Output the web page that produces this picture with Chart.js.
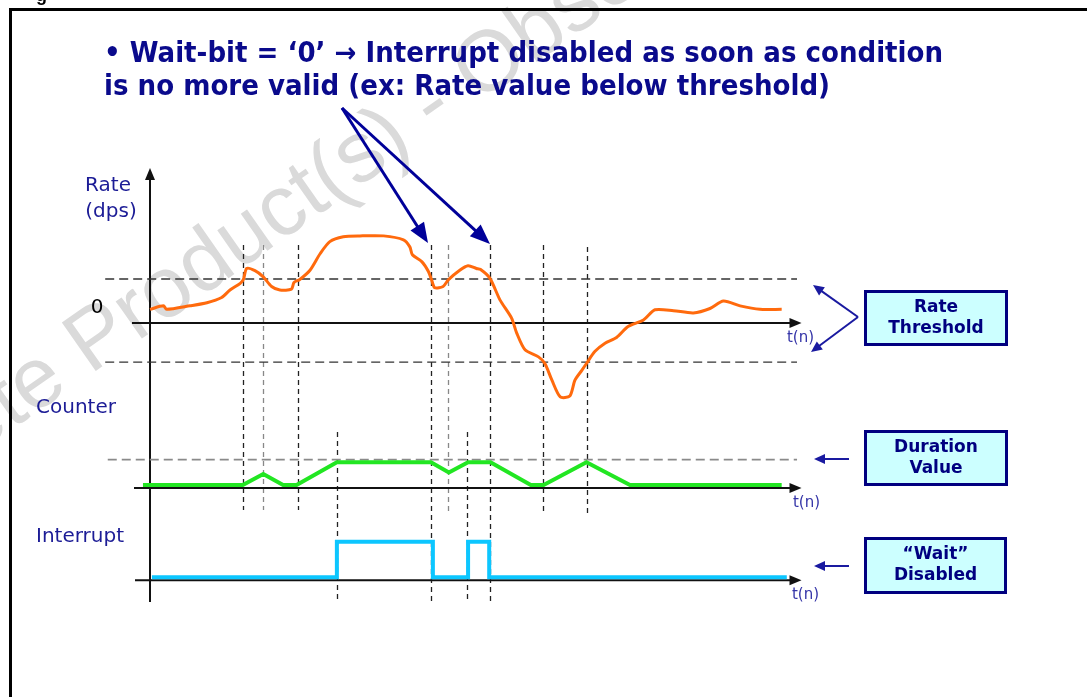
<!DOCTYPE html>
<html lang="en">
<head>
<meta charset="UTF-8">
<title>Wait-bit = 0 timing</title>
<style>
  html, body { margin: 0; padding: 0; background: #fff; }
  #wrap { position: relative; width: 1087px; height: 697px; }
  canvas { display: block; }
</style>
</head>
<body>
<div id="wrap"><canvas id="timing" width="1087" height="697"></canvas></div>
<script src="https://cdn.jsdelivr.net/npm/chart.js"></script>
<script>
// rate signal (dps, threshold = 1)
const rateT = [0, 2.1, 2.6, 6.25, 8.9, 11.2, 12.5, 14.1, 14.6, 15.1, 16.4, 17.7, 19.0, 20.3, 22.1,
  22.5, 23.4, 25.0, 26.6, 28.1, 30.2, 32.8, 36.5, 39.6, 40.6, 41.0, 42.5, 43.5, 44.0, 44.5,
  45.8, 46.6, 48.4, 49.7, 51.0, 51.6, 53.1, 54.7, 56.5, 57.3, 58.6, 60.7, 61.7, 62.8, 64.1,
  65.6, 66.4, 67.5, 68.2, 69.5, 71.1, 72.9, 74.7, 77.1, 78.9, 81.8, 84.9, 87.5, 89.6, 92.2,
  95.3, 98.7];
const rateDps = [0.31, 0.39, 0.31, 0.39, 0.46, 0.58, 0.75, 0.90, 0.99, 1.24, 1.19, 1.05, 0.83, 0.75, 0.77,
  0.92, 0.99, 1.20, 1.58, 1.85, 1.96, 1.98, 1.98, 1.89, 1.73, 1.55, 1.39, 1.17, 0.98, 0.80,
  0.83, 0.98, 1.20, 1.30, 1.24, 1.22, 1.02, 0.52, 0.11, -0.23, -0.61, -0.77, -0.92, -1.30, -1.68,
  -1.66, -1.30, -1.07, -0.92, -0.65, -0.46, -0.33, -0.08, 0.07, 0.30, 0.28, 0.23, 0.33, 0.50, 0.39,
  0.31, 0.31];
const rateThresholdHi = 1.0;
const rateThresholdLo = -0.89;

// counter
const counterT = [-1.1, 14.5, 17.7, 20.8, 22.9, 29.2, 43.9, 46.7, 49.7, 53.2, 59.5, 61.5, 68.2, 75.0, 98.7];
const counterVal = [0, 0, 0.48, 0, 0, 1, 1, 0.55, 1, 1, 0, 0, 1, 0, 0];
const durationValue = 1.12;

// interrupt line
const intT = [0.3, 29.2, 44.2, 49.7, 53.0, 99.5];
const intVal = [0, 1, 0, 1, 0, 0];

// vertical marker times
const eventT = [14.53, 17.66, 23.13, 29.22, 43.9, 46.56, 49.53, 53.13, 61.4, 68.28];

// guide line extent in t
const guideFrom = -7.0;
const guideTo = 101.1;

const W = 1087, H = 697;
const NAVY = '#0a0a8c';

function pts(xs, ys) { return xs.map((x, i) => ({ x: x, y: ys[i] })); }
function band(zeroPx, pxPerUnit) {
    return { type: 'linear', display: false, min: (zeroPx - H) / pxPerUnit, max: zeroPx / pxPerUnit };
}

const markerStyle = [
    { top: 245, bottom: 510, color: '#222' },
    { top: 245, bottom: 510, color: '#888' },
    { top: 245, bottom: 510, color: '#222' },
    { top: 432, bottom: 602, color: '#222' },
    { top: 245, bottom: 602, color: '#222' },
    { top: 245, bottom: 512, color: '#888' },
    { top: 432, bottom: 602, color: '#222' },
    { top: 245, bottom: 605, color: '#222' },
    { top: 245, bottom: 512, color: '#222' },
    { top: 247, bottom: 513, color: '#222' }
];

function arrow(ctx, x1, y1, x2, y2, lw, headLen, headW, color) {
    const a = Math.atan2(y2 - y1, x2 - x1);
    const c = Math.cos(a), s = Math.sin(a);
    ctx.strokeStyle = color;
    ctx.lineWidth = lw;
    ctx.beginPath();
    ctx.moveTo(x1, y1);
    ctx.lineTo(x2 - headLen * 0.8 * c, y2 - headLen * 0.8 * s);
    ctx.stroke();
    ctx.fillStyle = color;
    ctx.beginPath();
    ctx.moveTo(x2, y2);
    ctx.lineTo(x2 - headLen * c + headW * s, y2 - headLen * s - headW * c);
    ctx.lineTo(x2 - headLen * c - headW * s, y2 - headLen * s + headW * c);
    ctx.closePath();
    ctx.fill();
}

function label(ctx, text, x, y, font, color, align, maxW) {
    ctx.font = font;
    ctx.fillStyle = color;
    ctx.textAlign = align || 'left';
    ctx.textBaseline = 'middle';
    if (maxW && ctx.measureText(text).width > maxW) ctx.fillText(text, x, y, maxW);
    else ctx.fillText(text, x, y);
}

function box(ctx, x, y, w, h, lines) {
    ctx.fillStyle = '#ccffff';
    ctx.fillRect(x, y, w, h);
    ctx.strokeStyle = '#000080';
    ctx.lineWidth = 3;
    ctx.strokeRect(x + 1.5, y + 1.5, w - 3, h - 3);
    lines.forEach((t, i) => {
        label(ctx, t, x + w / 2, y + h / 2 + (i - (lines.length - 1) / 2) * 21, 'bold 17px "DejaVu Sans"', '#000080', 'center');
    });
}

const backdrop = {
    id: 'backdrop',
    beforeDatasetsDraw(chart) {
        const ctx = chart.ctx;
        const x = chart.scales.x;
        ctx.save();

        // watermark
        ctx.save();
        ctx.font = '86px "Liberation Sans"';
        const pre = ctx.measureText('Obsolete ').width;
        const ang = -35 * Math.PI / 180;
        ctx.translate(90 - pre * Math.cos(ang), 375 - pre * Math.sin(ang));
        ctx.rotate(ang);
        ctx.fillStyle = '#dadada';
        ctx.textBaseline = 'alphabetic';
        ctx.fillText('Obsolete Product(s) - Obsolete Product(s)', 0, 0);
        ctx.restore();

        // frame
        ctx.strokeStyle = '#000';
        ctx.lineWidth = 3;
        ctx.beginPath();
        ctx.moveTo(10.5, H);
        ctx.lineTo(10.5, 9.5);
        ctx.lineTo(W, 9.5);
        ctx.stroke();
        ctx.font = 'bold 18px "Liberation Sans"';
        ctx.fillStyle = '#000';
        ctx.textBaseline = 'alphabetic';
        ctx.textAlign = 'left';
        ctx.fillText('g', 36, 1);

        // vertical markers
        ctx.lineWidth = 1.3;
        ctx.setLineDash([5, 4]);
        eventT.forEach((t, i) => {
            const st = markerStyle[i];
            const px = Math.round(x.getPixelForValue(t)) + 0.5;
            ctx.strokeStyle = st.color;
            ctx.beginPath();
            ctx.moveTo(px, st.top);
            ctx.lineTo(px, st.bottom);
            ctx.stroke();
        });
        ctx.setLineDash([]);

        // axes
        const x0 = x.getPixelForValue(0);
        const tip = x.getPixelForValue(101.8);
        const axisY = [
            { y: chart.scales.yRate.getPixelForValue(0), from: 132 },
            { y: chart.scales.yCounter.getPixelForValue(0) + 3, from: 134 },
            { y: chart.scales.yInt.getPixelForValue(0) + 3, from: 135 }
        ];
        axisY.forEach(a => {
            arrow(ctx, a.from, a.y, tip, a.y, 2, 12, 5, '#111');
        });
        arrow(ctx, x0, 602, x0, 168, 2, 12, 5, '#111');
        ctx.restore();
    },
    afterDraw(chart) {
        const ctx = chart.ctx;
        const x = chart.scales.x;
        ctx.save();

        // headline
        ctx.font = 'bold 28px "DejaVu Sans"';
        ctx.fillStyle = NAVY;
        ctx.textAlign = 'left';
        ctx.textBaseline = 'alphabetic';
        ctx.fillText('\u2022 Wait-bit = \u20180\u2019 \u2192 Interrupt disabled as soon as condition', 104, 62, 839);
        ctx.fillText('is no more valid (ex: Rate value below threshold)', 104, 95, 726);

        arrow(ctx, 342, 108, 428, 243, 3, 20, 8, '#000099');
        arrow(ctx, 342, 108, 490, 244, 3, 20, 8, '#000099');

        // axis labels
        const lab = '#1c1c96';
        label(ctx, 'Rate', 108, 186, '20px "DejaVu Sans"', lab, 'center');
        label(ctx, '(dps)', 111, 212, '20px "DejaVu Sans"', lab, 'center');
        label(ctx, '0', 97, 308, '20px "DejaVu Sans"', '#000', 'center');
        label(ctx, 'Counter', 76, 408, '20px "DejaVu Sans"', lab, 'center');
        label(ctx, 'Interrupt', 80, 537, '20px "DejaVu Sans"', lab, 'center');

        const tx = x.getPixelForValue(101.8);
        label(ctx, 't(n)', tx - 1, 338, '15px "DejaVu Sans"', '#3535a8', 'center');
        label(ctx, 't(n)', tx + 5, 503, '15px "DejaVu Sans"', '#3535a8', 'center');
        label(ctx, 't(n)', tx + 4, 595, '15px "DejaVu Sans"', '#3535a8', 'center');

        // callouts
        arrow(ctx, 858, 317, 813, 285, 2, 11, 5, '#1a1aa0');
        arrow(ctx, 858, 317, 811, 352, 2, 11, 5, '#1a1aa0');
        arrow(ctx, 849, 459, 814, 459, 2, 11, 5, '#1a1aa0');
        arrow(ctx, 849, 566, 814, 566, 2, 11, 5, '#1a1aa0');

        box(ctx, 864, 290, 144, 56, ['Rate', 'Threshold']);
        box(ctx, 864, 430, 144, 56, ['Duration', 'Value']);
        box(ctx, 864, 537, 143, 57, ['\u201cWait\u201d', 'Disabled']);
        ctx.restore();
    }
};

new Chart(document.getElementById('timing'), {
    type: 'line',
    data: {
        datasets: [
            { label: 'Rate', data: pts(rateT, rateDps), yAxisID: 'yRate',
              borderColor: '#ff6a0d', borderWidth: 3, tension: 0.25 },
            { label: 'Counter', data: pts(counterT, counterVal), yAxisID: 'yCounter',
              borderColor: '#22e622', borderWidth: 4, tension: 0 },
            { label: 'Interrupt', data: pts(intT, intVal), yAxisID: 'yInt',
              borderColor: '#0cc6ff', borderWidth: 4, stepped: true },
            { label: 'Upper threshold', data: pts([guideFrom, guideTo], [rateThresholdHi, rateThresholdHi]),
              yAxisID: 'yRate', borderColor: '#333', borderWidth: 1.4, borderDash: [9, 5] },
            { label: 'Lower threshold', data: pts([guideFrom, guideTo], [rateThresholdLo, rateThresholdLo]),
              yAxisID: 'yRate', borderColor: '#333', borderWidth: 1.4, borderDash: [9, 5] },
            { label: 'Duration', data: pts([guideFrom + 0.4, guideTo], [durationValue, durationValue]),
              yAxisID: 'yCounter', borderColor: '#8a8a8a', borderWidth: 1.6, borderDash: [9, 5] }
        ]
    },
    options: {
        responsive: false,
        animation: false,
        devicePixelRatio: 1,
        layout: { padding: 0 },
        elements: { point: { radius: 0, hoverRadius: 0 } },
        plugins: { legend: { display: false }, tooltip: { enabled: false } },
        scales: {
            x: { type: 'linear', display: false, min: -150 / 6.4, max: (W - 150) / 6.4 },
            yRate: band(323, 44),
            yCounter: band(485, 22.7),
            yInt: band(577.3, 35.6)
        }
    },
    plugins: [backdrop]
});
</script>
</body>
</html>
